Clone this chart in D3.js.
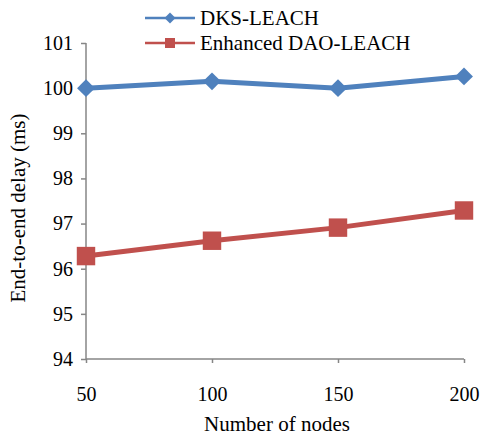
<!DOCTYPE html>
<html><head><meta charset="utf-8">
<script src="https://cdn.jsdelivr.net/npm/d3@7"></script>
<style>body{margin:0;background:#fff}svg{display:block}text{font-family:"Liberation Serif","Times New Roman",serif;fill:#000}</style>
</head><body><svg id="c" width="485" height="435"></svg>
<script>
const categories = [50, 100, 150, 200];
const dksValues = [100.0, 100.15, 100.0, 100.26];
const daoValues = [96.28, 96.62, 96.91, 97.29];
const yTicks = [94, 95, 96, 97, 98, 99, 100, 101];
const seriesNames = ["DKS-LEACH", "Enhanced DAO-LEACH"];
const colors = ["#4F81BD", "#C0504D"];

const svg = d3.select("#c");
const x = d3.scalePoint().domain(categories).range([86, 464]);
const y = d3.scaleLinear().domain([94, 101]).range([359, 43]);
const axisColor = "#868686";
const serif = '"Liberation Serif","Times New Roman",serif';

const yAxis = svg.append("g").attr("transform", "translate(86,0)")
  .call(d3.axisLeft(y).tickValues(yTicks).tickSize(5).tickPadding(8).tickFormat(d3.format("d")));
const xAxis = svg.append("g").attr("transform", "translate(0,359)")
  .call(d3.axisBottom(x).tickSize(4).tickPadding(24));
[yAxis, xAxis].forEach(g => {
  g.attr("font-family", serif);
  g.select(".domain").attr("stroke", axisColor).attr("stroke-width", 1.5);
  g.selectAll(".tick line").attr("stroke", axisColor).attr("stroke-width", 1.5);
  g.selectAll(".tick text").style("font-size", "20px").style("font-family", serif).attr("fill", "#000");
});
xAxis.select(".domain").attr("d", "M86,0H464");
yAxis.select(".domain").attr("d", "M0,43V359");

const line = d3.line().x((d, i) => x(categories[i])).y(d => y(d));
const series = [dksValues, daoValues];
series.forEach((vals, si) => {
  svg.append("path").datum(vals).attr("d", line).attr("fill", "none")
    .attr("stroke", colors[si]).attr("stroke-width", 5).attr("stroke-linejoin", "round");
});
svg.selectAll(".m0").data(dksValues).join("path")
  .attr("d", d3.symbol().type(d3.symbolSquare).size(160)).attr("fill", colors[0])
  .attr("transform", (d, i) => `translate(${x(categories[i])},${y(d)}) rotate(45)`);
svg.selectAll(".m1").data(daoValues).join("path")
  .attr("transform", (d, i) => `translate(${x(categories[i])},${y(d)})`)
  .attr("d", d3.symbol().type(d3.symbolSquare).size(340)).attr("fill", colors[1]);

// legend
const leg = svg.append("g");
seriesNames.forEach((name, i) => {
  const ly = 18 + i * 25;
  leg.append("line").attr("x1", 145).attr("x2", 195).attr("y1", ly).attr("y2", ly)
    .attr("stroke", colors[i]).attr("stroke-width", 2.5);
  if (i === 0) {
    leg.append("path").attr("d", d3.symbol().type(d3.symbolSquare).size(60))
      .attr("transform", `translate(170,${ly}) rotate(45)`).attr("fill", colors[i]);
  } else {
    leg.append("path").attr("d", d3.symbol().type(d3.symbolSquare).size(100))
      .attr("transform", `translate(170,${ly})`).attr("fill", colors[i]);
  }
  leg.append("text").attr("x", 200).attr("y", ly + 7).style("font-size", "21px").text(name);
});

svg.append("text").attr("x", 277).attr("y", 431).attr("text-anchor", "middle")
  .style("font-size", "21px").text("Number of nodes");
svg.append("text").attr("transform", "translate(25,208) rotate(-90)").attr("text-anchor", "middle")
  .style("font-size", "21px").text("End-to-end delay (ms)");
</script></body></html>
